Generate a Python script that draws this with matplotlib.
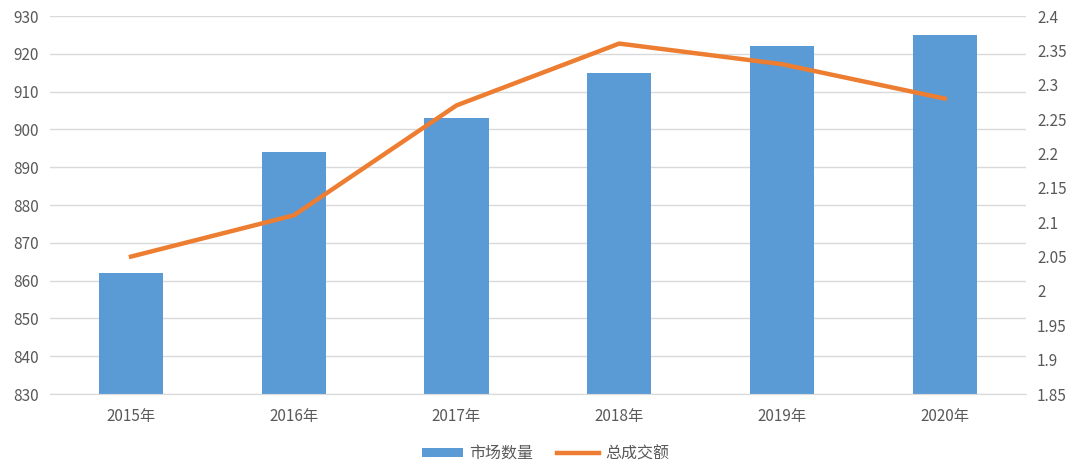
import matplotlib.pyplot as plt
import numpy as np

plt.rcParams['font.family'] = ['Noto Sans CJK SC', 'DejaVu Sans']

years = ['2015年', '2016年', '2017年', '2018年', '2019年', '2020年']
market_count = [862, 894, 903, 915, 922, 925]
total_deal = [2.05, 2.11, 2.27, 2.36, 2.33, 2.28]

x = np.arange(len(years))
fig = plt.figure(figsize=(10.8, 4.73), dpi=100)
ax = fig.add_axes([0.046, 0.167, 0.904, 0.799])
ax2 = ax.twinx()

ax.set_axisbelow(True)
ax.grid(axis='y', color='#d9d9d9', linewidth=1)
bars = ax.bar(x, market_count, width=0.395, color='#5B9BD5', label='市场数量')
line, = ax2.plot(x, total_deal, color='#ED7D31', linewidth=3.2, label='总成交额')

ax.set_xlim(-0.5, 5.5)
ax.set_ylim(830, 930)
ax.set_yticks(np.arange(830, 931, 10))
ax2.set_ylim(1.85, 2.4)
ax2.set_yticks(np.arange(1.85, 2.401, 0.05))
ax2.set_yticklabels([f'{v:g}' for v in np.round(np.arange(1.85, 2.401, 0.05), 2)])
ax.set_xticks(x)
ax.set_xticklabels(years)

for a in (ax, ax2):
    for s in a.spines.values():
        s.set_visible(False)
    a.tick_params(length=0, labelsize=11, colors='#595959')
ax.spines['bottom'].set_visible(True)
ax.spines['bottom'].set_color('#d9d9d9')
ax.tick_params(axis='x', pad=10)
ax.tick_params(axis='y', pad=8)
ax2.tick_params(axis='y', pad=8)

fig.legend([bars, line], ['市场数量', '总成交额'], loc='center', bbox_to_anchor=(0.505, 0.04),
           ncol=2, frameon=False, fontsize=11.5, labelcolor='#595959',
           handlelength=2.6, handleheight=0.5, handletextpad=0.4, columnspacing=1.5)

fig.savefig('out.png', dpi=100)
